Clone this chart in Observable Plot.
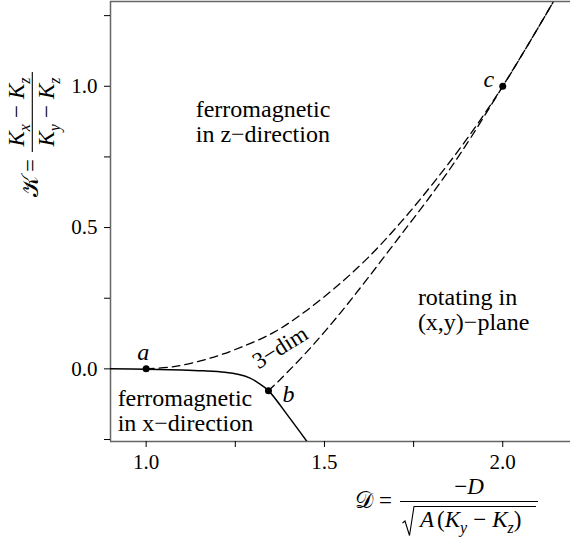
<!DOCTYPE html>
<html>
<head>
<meta charset="utf-8">
<script src="https://cdn.jsdelivr.net/npm/d3@7"></script>
<script src="https://cdn.jsdelivr.net/npm/@observablehq/plot@0.6"></script>
<style>
  body { margin: 0; background: #fff; font-family: "Liberation Serif"; }
  #wrap { position: relative; width: 570px; height: 545px; }
  #titles { position: absolute; left: 0; top: 0; pointer-events: none; }
  svg text { font-family: "Liberation Serif"; }
</style>
</head>
<body>
<div id="wrap">
  <div id="chart"></div>
  <!-- axis titles, typeset by hand: fractions are text, rules and a radical sign -->
  <svg id="titles" width="570" height="545" font-family="Liberation Serif" font-size="23" fill="#000">
    <g transform="translate(32.3,112) rotate(-90)">
      <text x="-47" y="6" text-anchor="end">&#x1D4A6;<tspan dx="4">=</tspan></text>
      <line x1="-40" x2="40" y1="0" y2="0" stroke="#000" stroke-width="1.1"></line>
      <text x="0" y="-8" text-anchor="middle"><tspan font-style="italic">K</tspan><tspan font-style="italic" font-size="16" dy="5.75">x</tspan><tspan dx="6" dy="-5.75">&#x2212;</tspan><tspan dx="6" font-style="italic">K</tspan><tspan font-style="italic" font-size="16" dy="5.75">z</tspan></text>
      <text x="0" y="22" text-anchor="middle"><tspan font-style="italic">K</tspan><tspan font-style="italic" font-size="16" dy="5.75">y</tspan><tspan dx="6" dy="-5.75">&#x2212;</tspan><tspan dx="6" font-style="italic">K</tspan><tspan font-style="italic" font-size="16" dy="5.75">z</tspan></text>
    </g>
    <g>
      <text x="392" y="508" text-anchor="end">&#x1D49F;<tspan dx="6">=</tspan></text>
      <line x1="400" x2="538" y1="501.5" y2="501.5" stroke="#000" stroke-width="1.1"></line>
      <text x="469" y="494" text-anchor="middle">&#x2212;<tspan font-style="italic">D</tspan></text>
      <path d="M402.5,523 L405,521 L409.5,535.5 L414,506.5 L536,506.5" fill="none" stroke="#000" stroke-width="1.1"></path>
      <text x="420" y="527"><tspan font-style="italic">A</tspan><tspan dx="3">(</tspan><tspan font-style="italic">K</tspan><tspan font-style="italic" font-size="16" dy="5.75">y</tspan><tspan dx="6" dy="-5.75">&#x2212;</tspan><tspan dx="6" font-style="italic">K</tspan><tspan font-style="italic" font-size="16" dy="5.75">z</tspan><tspan dy="-5.75">)</tspan></text>
    </g>
  </svg>
</div>
<script>
// Phase boundaries in the (D, K) plane
const solidX = [0.90, 1.00, 1.10, 1.16, 1.22, 1.26, 1.29, 1.315, 1.343, 1.40, 1.451];
const solidY = [0.000, -0.001, -0.004, -0.007, -0.012, -0.020, -0.032, -0.050, -0.077, -0.170, -0.257];

const upperX = [1.00, 1.078, 1.172, 1.265, 1.359, 1.434, 1.528, 1.621, 1.715, 1.808, 1.902, 2.00, 2.07, 2.141];
const upperY = [0.000, 0.008, 0.035, 0.076, 0.130, 0.192, 0.285, 0.392, 0.520, 0.662, 0.818, 1.000, 1.145, 1.297];

const lowerX = [1.343, 1.378, 1.462, 1.546, 1.621, 1.715, 1.808, 1.883, 2.00, 2.07, 2.141];
const lowerY = [-0.077, -0.035, 0.076, 0.200, 0.320, 0.475, 0.630, 0.765, 1.000, 1.145, 1.297];

// Special points
const pointNames = ["a", "b", "c"];
const pointX = [1.0, 1.343, 2.0];
const pointY = [0.0, -0.077, 1.0];

// Axes
const xDomain = [0.9, 2.19];
const yDomain = [-0.257, 1.3];
const xTicks = [1.0, 1.25, 1.5, 1.75, 2.0];
const xTickLabels = [1.0, 1.5, 2.0];
const yTicks = [-0.25, 0, 0.25, 0.5, 0.75, 1.0, 1.25];
const yTickLabels = [0, 0.5, 1.0];

// Region labels
const regionText = ["ferromagnetic\nin z\u2212direction", "rotating in\n(x,y)\u2212plane", "ferromagnetic\nin x\u2212direction"];
const regionX = [1.139, 1.762, 0.92];
const regionY = [0.802, 0.136, -0.2185];

const solid = solidX.map((x, i) => ({x, y: solidY[i]}));
const upper = upperX.map((x, i) => ({x, y: upperY[i]}));
const lower = lowerX.map((x, i) => ({x, y: lowerY[i]}));
const points = pointNames.map((name, i) => ({name, x: pointX[i], y: pointY[i]}));
const regions = regionText.map((text, i) => ({text, x: regionX[i], y: regionY[i]}));

const serif = "Liberation Serif";

const plot = Plot.plot({
  width: 570,
  height: 545,
  marginLeft: 110,
  marginRight: 0,
  marginTop: 1,
  marginBottom: 104,
  x: {domain: xDomain},
  y: {domain: yDomain},
  style: {fontFamily: serif, fontSize: "21px", color: "#000", background: "#fff"},
  marks: [
    Plot.ruleX([xDomain[0]], {stroke: "#666", strokeWidth: 1.5}),
    Plot.ruleY(yDomain, {stroke: "#666", strokeWidth: 1.5}),
    Plot.axisX({ticks: xTicks, tickSize: 6, tickPadding: 7, label: null, fontSize: 21, fontFamily: serif,
      tickFormat: d => xTickLabels.includes(d) ? d.toFixed(1) : ""}),
    Plot.axisY({ticks: yTicks, tickSize: 6, tickPadding: 7, label: null, fontSize: 21, fontFamily: serif,
      tickFormat: d => yTickLabels.includes(d) ? d.toFixed(1) : ""}),
    Plot.line(upper, {x: "x", y: "y", curve: "catmull-rom", stroke: "#000", strokeWidth: 1.3, strokeDasharray: "8,5", clip: true}),
    Plot.line(lower, {x: "x", y: "y", curve: "catmull-rom", stroke: "#000", strokeWidth: 1.3, strokeDasharray: "8,5", clip: true}),
    Plot.line(solid, {x: "x", y: "y", curve: "catmull-rom", stroke: "#000", strokeWidth: 1.5, clip: true}),
    Plot.dot(points, {x: "x", y: "y", r: 3.5, fill: "#000", stroke: null}),
    Plot.text(points.filter(d => d.name === "a"), {x: "x", y: "y", text: "name", dx: -3, dy: -9, lineAnchor: "bottom", fontStyle: "italic", fontSize: 24, fontFamily: serif}),
    Plot.text(points.filter(d => d.name === "b"), {x: "x", y: "y", text: "name", dx: 20, dy: 11, lineAnchor: "bottom", fontStyle: "italic", fontSize: 24, fontFamily: serif}),
    Plot.text(points.filter(d => d.name === "c"), {x: "x", y: "y", text: "name", dx: -14, dy: 1, lineAnchor: "bottom", fontStyle: "italic", fontSize: 24, fontFamily: serif}),
    Plot.text(regions, {x: "x", y: "y", text: "text", textAnchor: "start", lineAnchor: "bottom", fontSize: 24, lineHeight: 25 / 24, fontFamily: serif}),
    Plot.text(["3\u2212dim"], {x: [1.376], y: [0.076], text: d => d, rotate: -32, fontSize: 23, textAnchor: "middle", lineAnchor: "middle", fontFamily: serif})
  ]
});

document.getElementById("chart").appendChild(plot);
</script>
</body>
</html>
